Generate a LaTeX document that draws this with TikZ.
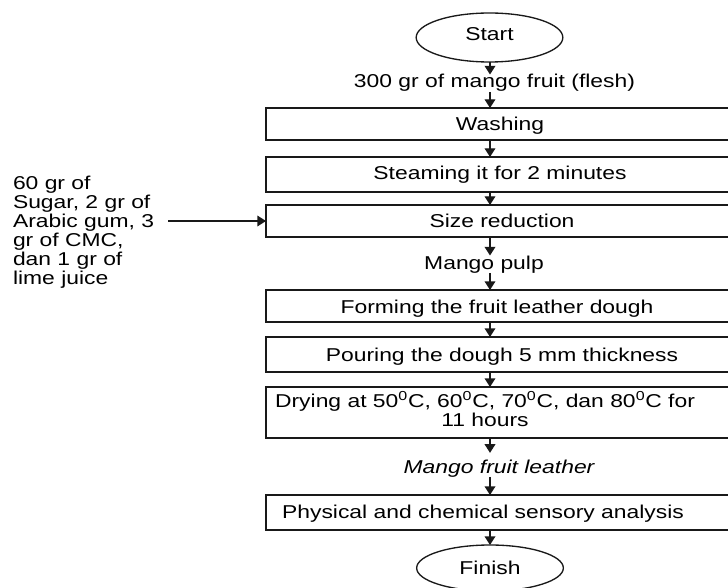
\documentclass[tikz,border=0pt]{standalone}
\usepackage{fontspec}
\setmainfont[FakeStretch=1.23]{Liberation Sans}
\usetikzlibrary{arrows.meta,shapes.geometric}
\definecolor{lc}{RGB}{25,25,25}
\begin{document}
\begin{tikzpicture}[x=0.75pt,y=-0.75pt,line width=1pt,
  every node/.style={inner sep=0pt,outer sep=0pt,font=\fontsize{13.95pt}{14.15pt}\selectfont},
  stepbox/.style={draw=lc,rectangle,anchor=west,minimum width=360pt,minimum height=#1},
  oval/.style={draw=lc,ellipse,minimum width=110pt,minimum height=#1},
  lab/.style={anchor=base},
  arr/.style={draw=lc,-{Triangle[width=8pt,length=6.5pt]}}]
\useasboundingbox (0,0) rectangle (728,588);
\clip (0,0) rectangle (728,588);
\coordinate (ax) at (490,0);
% nodes
\node[oval=36.75pt,text depth=4.5pt] (start) at (489.5,37.5) {Start};
\node[lab] (fruit) at (494.5,88) {300 gr of mango fruit (flesh)};
\node[stepbox=24pt] (wash) at (266,124) {};
\node[lab] (lwash) at (500,131) {Washing};
\node[stepbox=26.25pt] (steam) at (266,174.5) {};
\node[lab] (lsteam) at (500,180) {Steaming it for 2 minutes};
\node[stepbox=24pt] (size) at (266,221) {};
\node[lab] (lsize) at (502,228) {Size reduction};
\node[lab] (pulp) at (484,269) {Mango pulp};
\node[stepbox=24pt] (form) at (266,306) {};
\node[lab] (lform) at (497,313) {Forming the fruit leather dough};
\node[stepbox=26.25pt] (pour) at (266,354.5) {};
\node[lab] (lpour) at (502,361.5) {Pouring the dough 5 mm thickness};
\node[stepbox=38.25pt] (dry) at (266,412.5) {};
\node[lab,align=center] (ldry) at (485,426.7) {Drying at 50\textsuperscript{0}C, 60\textsuperscript{0}C, 70\textsuperscript{0}C, dan 80\textsuperscript{0}C for\\11 hours};
\node[lab] (leather) at (499,473) {\itshape Mango fruit leather};
\node[stepbox=26.25pt] (phys) at (266,512.5) {};
\node[lab] (lphys) at (483,518.5) {Physical and chemical sensory analysis};
\node[oval=34.5pt] (finish) at (490,568) {Finish};
\node[anchor=base west,align=left] (ingr) at (13,284.3) {60 gr of\\Sugar, 2 gr of\\Arabic gum, 3\\gr of CMC,\\dan 1 gr of\\lime juice};
% connectors
\draw[arr] (start.south -| ax) -- (fruit.north -| ax);
\draw[arr] (fruit.south -| ax) -- (wash.north -| ax);
\draw[arr] (wash.south -| ax) -- (steam.north -| ax);
\draw[arr] (steam.south -| ax) -- (size.north -| ax);
\draw[arr] (size.south -| ax) -- (pulp.north -| ax);
\draw[arr] (pulp.south -| ax) -- (form.north -| ax);
\draw[arr] (form.south -| ax) -- (pour.north -| ax);
\draw[arr] (pour.south -| ax) -- (dry.north -| ax);
\draw[arr,shorten >=5pt] (dry.south -| ax) -- (leather.north -| ax);
\draw[arr] (leather.south -| ax) -- (phys.north -| ax);
\draw[arr] (phys.south -| ax) -- (finish.north -| ax);
\draw[arr] ([xshift=10.5pt]ingr.east |- size.west) -- (size.west);
\end{tikzpicture}
\end{document}
